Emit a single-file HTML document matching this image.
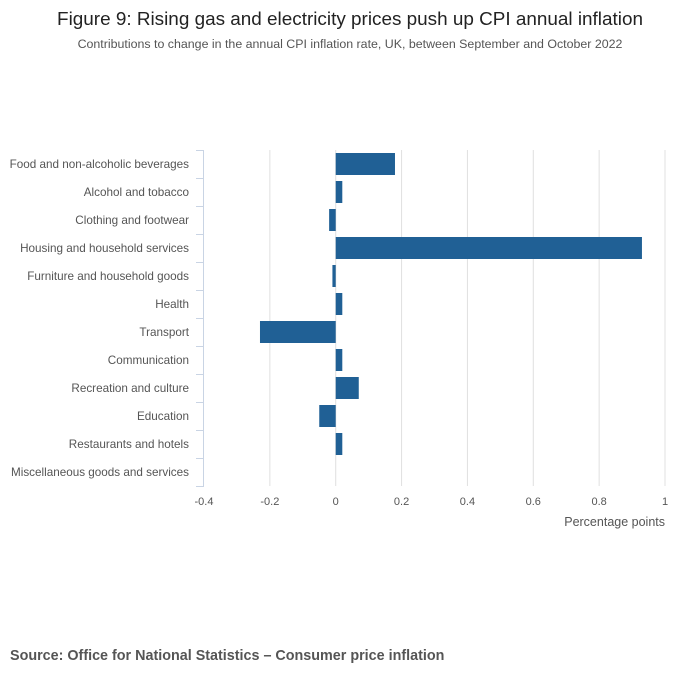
<!DOCTYPE html>
<html><head><meta charset="utf-8"><style>
body{margin:0;background:#fff;font-family:"Liberation Sans",sans-serif;}
svg text{font-family:"Liberation Sans",sans-serif;}
</style></head><body>
<svg id="c" width="700" height="682">
<text x="350" y="25" text-anchor="middle" font-size="18.9" fill="#222">Figure 9: Rising gas and electricity prices push up CPI annual inflation</text>
<text x="350" y="48" text-anchor="middle" font-size="12.4" fill="#555">Contributions to change in the annual CPI inflation rate, UK, between September and October 2022</text>
<text x="665" y="526" text-anchor="end" font-size="12.5" fill="#555">Percentage points</text>
<text x="10" y="660" font-size="14.35" font-weight="bold" fill="#555">Source: Office for National Statistics – Consumer price inflation</text>
<g id="plot"></g>
</svg>
<script>
const categories=["Food and non-alcoholic beverages","Alcohol and tobacco","Clothing and footwear","Housing and household services","Furniture and household goods","Health","Transport","Communication","Recreation and culture","Education","Restaurants and hotels","Miscellaneous goods and services"];
const values=[0.18,0.02,-0.02,0.93,-0.01,0.02,-0.23,0.02,0.07,-0.05,0.02,0];
const ticks=[-0.4,-0.2,0,0.2,0.4,0.6,0.8,1];
const tickLabels=["-0.4","-0.2","0","0.2","0.4","0.6","0.8","1"];
const NS="http://www.w3.org/2000/svg";
const plotG=document.getElementById('plot');
const xLeft=204,xRight=665,plotTop=150,band=28;
const plotBottom=plotTop+band*categories.length;
function xs(v){return xLeft+(v-(-0.4))/(1.4)*(xRight-xLeft);}
function ys(i){return plotTop+i*band;}
function mk(t,a){const e=document.createElementNS(NS,t);for(const k in a)e.setAttribute(k,a[k]);plotG.appendChild(e);return e;}
ticks.forEach((t,i)=>{
 if(i>0){const l=mk('line',{x1:xs(t),x2:xs(t),y1:plotTop,y2:plotBottom,stroke:'#e0e0e0','stroke-width':1});
 
 }
 const tx=mk('text',{x:xs(t),y:plotBottom+19,'text-anchor':'middle','font-size':11,fill:'#555'});
 tx.textContent=tickLabels[i];
 
 
});
const ax=mk('line',{x1:203.5,x2:203.5,y1:plotTop,y2:plotBottom,stroke:'#c9d4e4','stroke-width':1});


for(let i=0;i<=categories.length;i++){
 const tk=mk('line',{x1:196,x2:204,y1:ys(i)+0.5,y2:ys(i)+0.5,stroke:'#c9d4e4','stroke-width':1});
 
 
}
categories.forEach((c,i)=>{
 const t=mk('text',{x:189,y:ys(i)+band/2+4,'text-anchor':'end','font-size':11.7,fill:'#555'});
 t.textContent=c;
 
 
 const v=values[i];
 const a=Math.min(xs(0),xs(v)),w=Math.abs(xs(v)-xs(0));
 const r=mk('rect',{x:a,y:ys(i)+3,width:w,height:22,fill:'#206095'});
 
 
});
</script>
</body></html>
